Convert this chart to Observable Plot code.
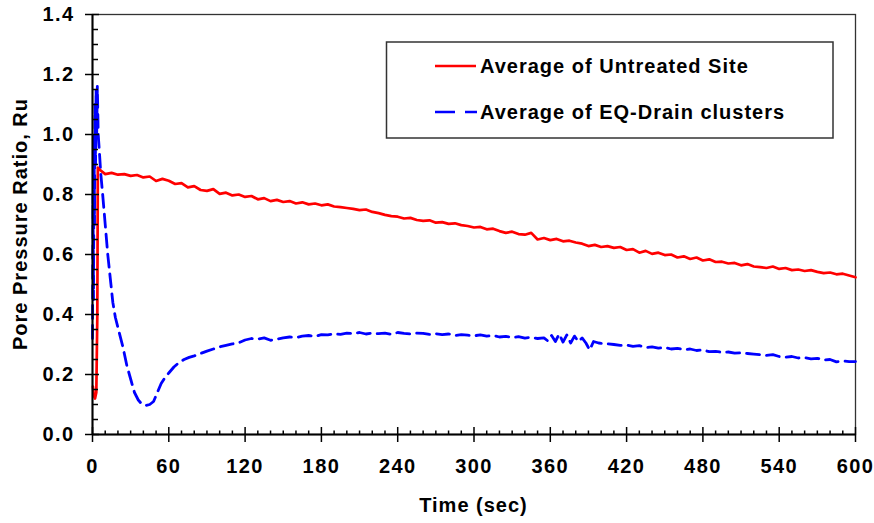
<!DOCTYPE html>
<html><head><meta charset="utf-8">
<script src="https://cdn.jsdelivr.net/npm/d3@7"></script>
<script src="https://cdn.jsdelivr.net/npm/@observablehq/plot@0.6"></script>
<style>
body{margin:0;background:#fff;}
svg text{font-family: Arial, "Liberation Sans", sans-serif; font-weight:bold; fill:#000;}
</style></head><body><div id="chart"></div>
<script>
// Series: Average of Untreated Site (red, solid)
const untreatedTime = [0.3,1,2,3,3.8,4.2,
5,10,15,20,25,30,35,40,45,50,55,60,65,70,75,80,85,90,95,100,
105,110,115,120,125,130,135,140,145,150,155,160,165,170,175,180,185,190,195,200,
205,210,215,220,225,230,235,240,245,250,255,260,265,270,275,280,285,290,295,300,
305,310,315,320,325,330,335,340,345,350,355,360,365,370,375,380,385,390,395,400,
405,410,415,420,425,430,435,440,445,450,455,460,465,470,475,480,485,490,495,500,
505,510,515,520,525,530,535,540,545,550,555,560,565,570,575,580,585,590,595,600];
const untreatedRu = [0.16,0.13,0.12,0.14,0.40,0.89,
0.885,0.868,0.872,0.866,0.868,0.862,0.865,0.857,0.860,0.845,0.852,0.846,0.835,0.838,0.824,0.828,0.815,0.812,0.818,0.802,
0.806,0.797,0.800,0.792,0.795,0.784,0.788,0.778,0.782,0.775,0.778,0.770,0.774,0.767,0.770,0.764,0.767,0.760,0.758,0.755,
0.752,0.748,0.750,0.742,0.738,0.732,0.728,0.726,0.720,0.722,0.715,0.712,0.714,0.706,0.708,0.702,0.704,0.698,0.695,0.690,
0.692,0.684,0.686,0.678,0.672,0.676,0.668,0.666,0.672,0.650,0.655,0.648,0.652,0.644,0.646,0.640,0.636,0.628,0.632,0.625,
0.628,0.622,0.625,0.615,0.618,0.606,0.612,0.602,0.606,0.598,0.600,0.590,0.594,0.585,0.590,0.580,0.584,0.575,0.576,0.570,
0.572,0.564,0.568,0.560,0.558,0.555,0.560,0.552,0.555,0.548,0.550,0.545,0.548,0.542,0.538,0.540,0.534,0.536,0.530,0.524];

// Series: Average of EQ-Drain clusters (blue, dashed)
const drainTime = [0,0.4,0.8,1.2,1.6,2,2.4,2.8,3.3,3.8,4.5,5.3,6.5,8,10,12,14,16,18,21,24,27,30,33,36,39,42,45,48,51,54,57,60,
64,68,72,76,80,85,90,95,100,105,110,115,120,125,130,135,140,145,150,155,160,165,170,175,180,185,190,195,200,
205,210,215,220,225,230,235,240,245,250,255,260,265,270,275,280,285,290,295,300,305,310,315,320,325,330,335,340,345,350,355,
358,361,364,367,370,373,376,379,382,385,388,391,394,398,405,410,415,420,425,430,435,440,445,450,455,460,465,470,475,480,
485,490,495,500,505,510,515,520,525,530,535,540,545,550,555,560,565,570,575,580,585,590,595,600];
const drainRu = [0.32,0.80,0.45,1.00,0.70,1.10,0.90,1.15,1.00,1.16,1.00,0.95,0.87,0.80,0.70,0.60,0.52,0.44,0.39,0.34,0.29,0.23,0.185,0.14,0.115,0.10,0.097,0.10,0.11,0.14,0.17,0.19,0.205,
0.225,0.24,0.25,0.257,0.262,0.27,0.278,0.285,0.292,0.297,0.302,0.306,0.315,0.32,0.318,0.322,0.314,0.318,0.322,0.325,0.323,0.328,0.33,0.327,0.333,0.332,0.336,0.334,0.338,
0.336,0.34,0.335,0.338,0.336,0.338,0.334,0.34,0.337,0.335,0.338,0.337,0.334,0.336,0.333,0.335,0.33,0.333,0.331,0.329,0.332,0.328,0.33,0.325,0.327,0.323,0.326,0.321,0.324,0.32,0.322,
0.312,0.33,0.31,0.335,0.308,0.332,0.305,0.328,0.31,0.322,0.305,0.282,0.31,0.305,0.302,0.30,0.297,0.298,0.294,0.296,0.29,0.292,0.288,0.29,0.285,0.287,0.283,0.285,0.28,0.282,
0.276,0.277,0.274,0.275,0.271,0.272,0.27,0.268,0.266,0.264,0.266,0.26,0.258,0.26,0.255,0.256,0.252,0.254,0.248,0.25,0.242,0.245,0.243,0.243];

// Axis ticks
const xMajorTicks = [0,60,120,180,240,300,360,420,480,540,600];
const xMinorTicks = [10,20,30,40,50,70,80,90,100,110,130,140,150,160,170,190,200,210,220,230,250,260,270,280,290,310,320,330,340,350,370,380,390,400,410,430,440,450,460,470,490,500,510,520,530,550,560,570,580,590];
const yMajorTicks = [0,0.2,0.4,0.6,0.8,1.0,1.2,1.4];
const yMinorTicks = [0.05,0.1,0.15,0.25,0.3,0.35,0.45,0.5,0.55,0.65,0.7,0.75,0.85,0.9,0.95,1.05,1.1,1.15,1.25,1.3,1.35];

const seriesNames = ["Average of Untreated Site", "Average of EQ-Drain clusters"];
const xTitle = "Time (sec)";
const yTitle = "Pore Pressure Ratio, Ru";

const untreated = untreatedTime.map((t, i) => ({t, ru: untreatedRu[i]}));
const drain = drainTime.map((t, i) => ({t, ru: drainRu[i]}));

const W = 874, H = 523, mL = 92, mR = 19, mT = 14, mB = 89;
const pxX = 600 / (W - mL - mR);   // data units per pixel in x
const pxY = 1.4 / (H - mT - mB);   // data units per pixel in y

const chart = Plot.plot({
  width: W, height: H,
  marginLeft: mL, marginRight: mR, marginTop: mT, marginBottom: mB,
  x: {domain: [0, 600]},
  y: {domain: [0, 1.4]},
  style: {fontFamily: "Arial, 'Liberation Sans', sans-serif", background: "#fff"},
  marks: [
    Plot.frame({stroke: "#333", strokeWidth: 1.3}),
    Plot.line(drain, {x: "t", y: "ru", stroke: "#0000ff", strokeWidth: 2.8, strokeDasharray: "13,7", strokeLinejoin: "round"}),
    Plot.line(untreated, {x: "t", y: "ru", stroke: "#ff0000", strokeWidth: 2.7, strokeLinejoin: "round"}),
    // axis lines
    Plot.ruleY([0], {stroke: "#000", strokeWidth: 2}),
    Plot.ruleX([0], {stroke: "#000", strokeWidth: 2}),
    // ticks
    Plot.ruleX(xMajorTicks, {x: d => d, y1: -8 * pxY, y2: 7 * pxY, stroke: "#000", strokeWidth: 1.5}),
    Plot.ruleX(xMinorTicks, {x: d => d, y1: 0, y2: 3.5 * pxY, stroke: "#000", strokeWidth: 1.5}),
    Plot.ruleY(yMajorTicks, {y: d => d, x1: -7 * pxX, x2: 7 * pxX, stroke: "#000", strokeWidth: 1.5}),
    Plot.ruleY(yMinorTicks, {y: d => d, x1: 0, x2: 6 * pxX, stroke: "#000", strokeWidth: 1.5}),
    Plot.axisX({ticks: xMajorTicks, tickSize: 0, tickPadding: 24, tickFormat: d => String(d), label: null, fontSize: 20, fontWeight: "bold"}),
    Plot.axisY({ticks: yMajorTicks, tickSize: 0, tickPadding: 18, tickFormat: d3.format(".1f"), label: null, fontSize: 20, fontWeight: "bold"})
  ]
});
document.getElementById("chart").appendChild(chart);

const svg = d3.select(chart);
svg.selectAll("g[aria-label='x-axis tick label'] text, g[aria-label='y-axis tick label'] text").style("letter-spacing", "1.4px");

// Axis titles
svg.append("text").attr("x", (mL + W - mR) / 2).attr("y", 512).attr("text-anchor", "middle")
  .style("font-size", "20px").style("letter-spacing", "1px").text(xTitle);
svg.append("text").attr("transform", `translate(27,${(mT + H - mB) / 2}) rotate(-90)`).attr("text-anchor", "middle")
  .style("font-size", "20px").style("letter-spacing", "1px").text(yTitle);

// Legend
const lg = svg.append("g");
lg.append("rect").attr("x", 386.5).attr("y", 42).attr("width", 446.5).attr("height", 96)
  .attr("fill", "#fff").attr("stroke", "#333").attr("stroke-width", 1.5);
lg.append("line").attr("x1", 435).attr("x2", 476).attr("y1", 66).attr("y2", 66)
  .attr("stroke", "#ff0000").attr("stroke-width", 2.4);
lg.append("line").attr("x1", 435).attr("x2", 477).attr("y1", 112).attr("y2", 112)
  .attr("stroke", "#0000ff").attr("stroke-width", 2.6).attr("stroke-dasharray", "20,10");
lg.append("text").attr("x", 480).attr("y", 73).attr("text-anchor", "start").style("text-anchor", "start")
  .style("font-size", "20px").style("letter-spacing", "1px").text(seriesNames[0]);
lg.append("text").attr("x", 480).attr("y", 119).attr("text-anchor", "start").style("text-anchor", "start")
  .style("font-size", "20px").style("letter-spacing", "1px").text(seriesNames[1]);
</script></body></html>
